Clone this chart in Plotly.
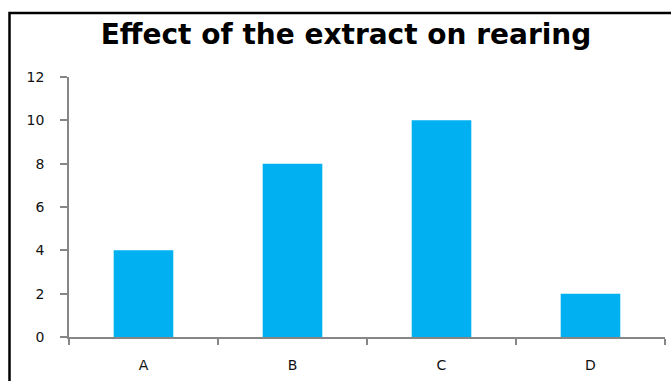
import plotly.graph_objects as go

categories = ["A", "B", "C", "D"]
values = [4, 8, 10, 2]
y_ticks = [0, 2, 4, 6, 8, 10, 12]
title_text = "Effect of the extract on rearing"

W, H = 671, 381
ml, mr, mt, mb = 69, 6, 77, 44
pw, ph = W - ml - mr, H - mt - mb

fig = go.Figure()
fig.add_trace(go.Bar(x=categories, y=values, marker=dict(color="#00B0F0", line=dict(width=0)),
                     width=0.4))

axis_color = "#868686"
tick_font = dict(family="DejaVu Sans", size=14, color="#111111")
fig.update_layout(
    width=W, height=H,
    margin=dict(l=ml, r=mr, t=mt, b=mb),
    paper_bgcolor="white", plot_bgcolor="white",
    showlegend=False,
    title=dict(text=title_text, x=346 / W, xanchor="center", y=1 - 34 / H, yanchor="middle",
               font=dict(family="DejaVu Sans", size=28, color="black", weight="bold")),
    xaxis=dict(type="category", showline=True, linecolor=axis_color, linewidth=1.5,
               ticks="outside", tickson="boundaries", ticklen=6, tickcolor=axis_color, tickwidth=1.5,
               showgrid=False, tickfont=tick_font,
               ticklabelstandoff=14, range=[-0.5, 3.5]),
    yaxis=dict(range=[0, 12], tickvals=y_ticks, showline=True, linecolor=axis_color, linewidth=1.5,
               ticks="outside", ticklen=7, tickcolor=axis_color, tickwidth=1.5, showgrid=False,
               zeroline=False, tickfont=tick_font,
               ticklabelstandoff=13),
    bargap=0.6,
)

fig.add_shape(type="rect", xref="paper", yref="paper",
              x0=(9.5 - ml) / pw, x1=(W + 20 - ml) / pw,
              y0=-(mb + 20) / ph, y1=(H - 13 - mb) / ph,
              line=dict(color="black", width=2.5), fillcolor="rgba(0,0,0,0)", layer="above")

fig.write_html("out.html")
